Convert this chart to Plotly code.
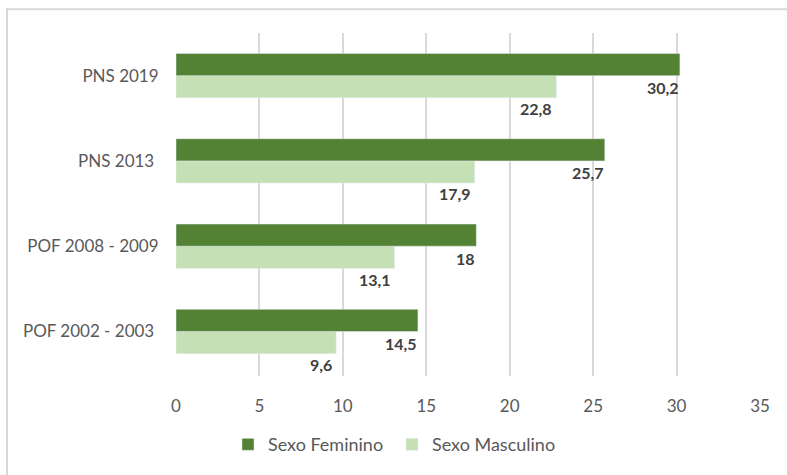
import plotly.graph_objects as go

categories = ["POF 2002 - 2003 ", "POF 2008 - 2009", "PNS 2013 ", "PNS 2019"]
feminino = [14.5, 18, 25.7, 30.2]
masculino = [9.6, 13.1, 17.9, 22.8]
x_ticks = [0, 5, 10, 15, 20, 25, 30, 35]

DARK = "#548235"
LIGHT = "#C5E0B4"
FONT = "Lato, Open Sans, sans-serif"

def fmt(v):
    s = ("%g" % v)
    return s.replace(".", ",")

fig = go.Figure()
fig.add_trace(go.Bar(y=categories, x=masculino, orientation="h", name="Sexo Masculino",
                     marker=dict(color=LIGHT), legendrank=2))
fig.add_trace(go.Bar(y=categories, x=feminino, orientation="h", name="Sexo Feminino",
                     marker=dict(color=DARK), legendrank=1))

annotations = []
for c, v in zip(categories, feminino):
    annotations.append(dict(x=v, y=c, xref="x", yref="y", text="<b>%s</b>" % fmt(v),
                            showarrow=False, xanchor="right", yanchor="middle", yshift=-12, xshift=1,
                            font=dict(family=FONT, size=16, color="#404040")))
for c, v in zip(categories, masculino):
    annotations.append(dict(x=v, y=c, xref="x", yref="y", text="<b>%s</b>" % fmt(v),
                            showarrow=False, xanchor="right", yanchor="middle", yshift=-33, xshift=-2,
                            font=dict(family=FONT, size=16, color="#404040")))

fig.update_layout(
    width=787, height=475,
    margin=dict(l=176, r=27, t=33, b=95),
    paper_bgcolor="white", plot_bgcolor="white",
    barmode="group", bargap=0.48, bargroupgap=0,
    font=dict(family=FONT, size=17, color="#595959"),
    showlegend=True,
    legend=dict(orientation="h", x=(228 - 176) / 584, xanchor="left", y=-0.2, yanchor="middle",
                font=dict(family=FONT, size=18, color="#595959"), traceorder="normal",
                itemwidth=30, entrywidth=119, entrywidthmode="pixels"),
    annotations=annotations,
    shapes=[
        dict(type="line", xref="paper", yref="paper", x0=-169/584, x1=640/584,
             y0=(475 - 95 - 9) / 347, y1=(475 - 95 - 9) / 347,
             line=dict(color="#D9D9D9", width=2)),
        dict(type="line", xref="paper", yref="paper", x0=-169/584, x1=-169/584,
             y0=-0.5, y1=(475 - 95 - 9) / 347 + 0.003,
             line=dict(color="#D9D9D9", width=2)),
    ],
)
fig.update_xaxes(range=[0, 35], tickvals=x_ticks, showgrid=True, gridcolor="#D9D9D9", gridwidth=1.5,
                 zeroline=False, showline=False, ticks="outside", ticklen=15, tickcolor="rgba(0,0,0,0)",
                 tickfont=dict(family=FONT, size=17, color="#595959"), fixedrange=True)
fig.update_yaxes(showgrid=False, ticks="outside", ticklen=13, tickcolor="rgba(0,0,0,0)",
                 tickfont=dict(family=FONT, size=17, color="#595959"), fixedrange=True)

fig.write_html("out.html")
